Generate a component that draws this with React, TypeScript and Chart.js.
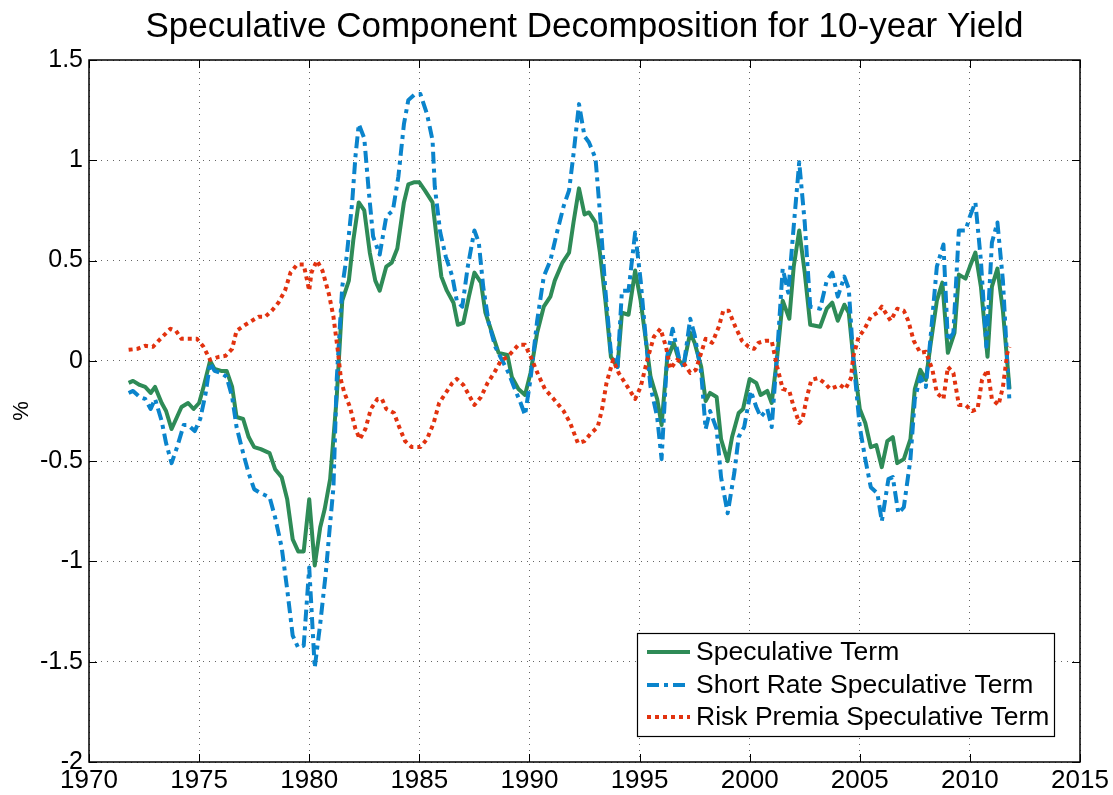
import React, { useEffect, useRef } from "react";
import { Chart, registerables } from "chart.js";

Chart.register(...registerables);

const TITLE = "Speculative Component Decomposition for 10-year Yield";
const Y_LABEL = "%";
const SERIES_LABELS = [
  "Speculative Term",
  "Short Rate Speculative Term",
  "Risk Premia Speculative Term",
];

const X_MIN = 1970;
const X_MAX = 2015;
const X_STEP = 5;
const Y_MIN = -2;
const Y_MAX = 1.5;
const Y_STEP = 0.5;

const specYears = [
  1971.8, 1972.0, 1972.3, 1972.55, 1972.8, 1973.0, 1973.3, 1973.5, 1973.75, 1974.2,
  1974.5, 1974.75, 1975.0, 1975.2, 1975.5, 1975.7, 1976.0, 1976.25, 1976.5, 1976.7,
  1977.0, 1977.25, 1977.5, 1977.8, 1978.2, 1978.45, 1978.75, 1979.0, 1979.25, 1979.5,
  1979.75, 1980.0, 1980.25, 1980.5, 1980.7, 1980.95, 1981.25, 1981.5, 1981.8, 1982.0,
  1982.25, 1982.5, 1982.75, 1983.0, 1983.2, 1983.5, 1983.75, 1984.0, 1984.3, 1984.5,
  1984.75, 1985.0, 1985.25, 1985.6, 1985.8, 1986.0, 1986.25, 1986.55, 1986.75, 1987.0,
  1987.25, 1987.5, 1987.8, 1988.0, 1988.3, 1988.6, 1989.0, 1989.2, 1989.5, 1989.8,
  1990.05, 1990.35, 1990.65, 1990.95, 1991.15, 1991.5, 1991.8, 1992.0, 1992.25, 1992.5,
  1992.7, 1993.0, 1993.2, 1993.45, 1993.7, 1994.0, 1994.2, 1994.5, 1994.8, 1995.05,
  1995.3, 1995.5, 1995.8, 1996.0, 1996.25, 1996.55, 1996.8, 1997.0, 1997.3, 1997.5,
  1997.8, 1998.0, 1998.2, 1998.5, 1998.7, 1999.0, 1999.2, 1999.5, 1999.7, 2000.0,
  2000.3, 2000.5, 2000.8, 2001.0, 2001.25, 2001.5, 2001.8, 2002.0, 2002.25, 2002.5,
  2002.75, 2003.2, 2003.5, 2003.75, 2004.0, 2004.3, 2004.5, 2004.7, 2005.0, 2005.25,
  2005.5, 2005.75, 2006.0, 2006.25, 2006.5, 2006.7, 2007.0, 2007.3, 2007.5, 2007.75,
  2008.0, 2008.2, 2008.5, 2008.75, 2009.0, 2009.3, 2009.5, 2009.8, 2010.0, 2010.25,
  2010.5, 2010.8, 2011.0, 2011.25, 2011.5, 2011.8,
];
const specValues = [
  -0.11, -0.10, -0.12, -0.13, -0.16, -0.13, -0.21, -0.25, -0.34, -0.23,
  -0.21, -0.24, -0.21, -0.13, 0.0, -0.04, -0.05, -0.05, -0.13, -0.28,
  -0.29, -0.38, -0.43, -0.44, -0.46, -0.54, -0.58, -0.69, -0.89, -0.95,
  -0.95, -0.69, -1.02, -0.83, -0.74, -0.59, -0.18, 0.30, 0.40, 0.60,
  0.79, 0.75, 0.54, 0.40, 0.35, 0.47, 0.49, 0.56, 0.79, 0.88,
  0.89, 0.89, 0.85, 0.79, 0.60, 0.42, 0.35, 0.29, 0.18, 0.19,
  0.32, 0.44, 0.39, 0.24, 0.14, 0.04, 0.03, -0.08, -0.14, -0.17,
  -0.06, 0.14, 0.27, 0.32, 0.40, 0.49, 0.54, 0.69, 0.86, 0.73,
  0.74, 0.69, 0.54, 0.30, 0.02, -0.03, 0.24, 0.23, 0.45, 0.30,
  0.09, -0.08, -0.19, -0.32, 0.005, 0.09, 0.0, -0.02, 0.14, 0.09,
  -0.03, -0.20, -0.16, -0.18, -0.39, -0.50, -0.38, -0.26, -0.24, -0.09,
  -0.11, -0.17, -0.15, -0.21, 0.02, 0.30, 0.21, 0.47, 0.65, 0.44,
  0.18, 0.17, 0.26, 0.29, 0.20, 0.28, 0.24, 0.02, -0.24, -0.31,
  -0.43, -0.42, -0.53, -0.40, -0.38, -0.51, -0.49, -0.39, -0.14, -0.045,
  -0.095, 0.07, 0.30, 0.39, 0.04, 0.14, 0.43, 0.41, 0.47, 0.54,
  0.37, 0.02, 0.37, 0.46, 0.25, -0.14,
];

const shortYears = [
  1971.8, 1972.0, 1972.3, 1972.55, 1972.8, 1973.0, 1973.3, 1973.5, 1973.75, 1974.0,
  1974.3, 1974.5, 1974.8, 1975.05, 1975.3, 1975.5, 1975.7, 1976.0, 1976.25, 1976.5,
  1976.7, 1977.0, 1977.25, 1977.5, 1977.8, 1978.2, 1978.45, 1978.75, 1979.0, 1979.25,
  1979.5, 1979.75, 1980.0, 1980.25, 1980.5, 1980.75, 1980.95, 1981.1, 1981.25, 1981.5,
  1981.7, 1981.95, 1982.1, 1982.25, 1982.5, 1982.7, 1982.9, 1983.2, 1983.5, 1983.8,
  1984.05, 1984.3, 1984.5, 1984.8, 1985.05, 1985.35, 1985.6, 1985.7, 1985.95, 1986.2,
  1986.5, 1986.7, 1986.95, 1987.2, 1987.5, 1987.7, 1987.9, 1988.15, 1988.45, 1988.75,
  1989.05, 1989.3, 1989.6, 1989.8, 1990.05, 1990.35, 1990.65, 1990.95, 1991.25, 1991.55,
  1991.8, 1992.0, 1992.25, 1992.5, 1992.7, 1993.0, 1993.2, 1993.45, 1993.7, 1994.0,
  1994.2, 1994.5, 1994.8, 1995.05, 1995.3, 1995.5, 1995.8, 1996.0, 1996.25, 1996.5,
  1996.8, 1997.0, 1997.3, 1997.5, 1997.8, 1998.0, 1998.2, 1998.5, 1998.7, 1999.0,
  1999.3, 1999.5, 1999.75, 2000.05, 2000.3, 2000.5, 2000.8, 2001.0, 2001.25, 2001.5,
  2001.75, 2002.0, 2002.25, 2002.5, 2002.75, 2003.2, 2003.5, 2003.75, 2004.0, 2004.3,
  2004.5, 2004.7, 2005.0, 2005.25, 2005.5, 2005.8, 2006.0, 2006.3, 2006.5, 2006.75,
  2007.0, 2007.3, 2007.5, 2007.75, 2008.0, 2008.2, 2008.5, 2008.8, 2009.0, 2009.25,
  2009.5, 2009.8, 2010.0, 2010.25, 2010.5, 2010.75, 2011.0, 2011.25, 2011.5, 2011.8,
];
const shortValues = [
  -0.16, -0.15, -0.18, -0.19, -0.24, -0.19, -0.30, -0.41, -0.51, -0.43,
  -0.32, -0.32, -0.35, -0.29, -0.16, -0.01, -0.05, -0.06, -0.08, -0.18,
  -0.33, -0.46, -0.56, -0.64, -0.66, -0.68, -0.78, -0.93, -1.14, -1.37,
  -1.43, -1.42, -1.03, -1.53, -1.31, -1.06, -0.81, -0.63, -0.09, 0.37,
  0.52, 0.79, 1.02, 1.18, 1.11, 0.85, 0.62, 0.53, 0.72, 0.75,
  0.92, 1.18, 1.30, 1.33, 1.33, 1.23, 1.10, 0.87, 0.64, 0.52,
  0.42, 0.30, 0.27, 0.47, 0.65, 0.59, 0.37, 0.19, 0.07, 0.005,
  -0.06, -0.13, -0.21, -0.27, -0.09, 0.20, 0.42, 0.50, 0.64, 0.77,
  0.85, 1.03, 1.28, 1.12, 1.09, 1.01, 0.74, 0.35, 0.04, -0.03,
  0.35, 0.35, 0.64, 0.40, 0.09, -0.13, -0.28, -0.49, 0.02, 0.16,
  0.01, -0.03, 0.21, 0.13, -0.06, -0.34, -0.25, -0.34, -0.58, -0.76,
  -0.56, -0.38, -0.33, -0.15, -0.23, -0.28, -0.24, -0.33, 0.04, 0.46,
  0.34, 0.67, 0.99, 0.69, 0.27, 0.26, 0.40, 0.44, 0.32, 0.42,
  0.36, 0.02, -0.33, -0.49, -0.63, -0.66, -0.80, -0.59, -0.58, -0.76,
  -0.73, -0.49, -0.19, -0.08, -0.13, 0.10, 0.47, 0.58, 0.10, 0.14,
  0.65, 0.65, 0.72, 0.79, 0.50, 0.07, 0.59, 0.69, 0.40, -0.21,
];

const riskYears = [
  1971.8, 1972.2, 1972.55, 1972.9, 1973.2, 1973.7, 1973.95, 1974.2, 1974.6, 1974.9,
  1975.2, 1975.5, 1975.9, 1976.2, 1976.5, 1976.7, 1977.1, 1977.4, 1977.7, 1978.0,
  1978.3, 1978.6, 1978.9, 1979.15, 1979.45, 1979.75, 1980.0, 1980.1, 1980.35, 1980.6,
  1980.9, 1981.1, 1981.3, 1981.45, 1981.6, 1981.85, 1982.1, 1982.3, 1982.55, 1982.8,
  1983.1, 1983.3, 1983.5, 1983.85, 1984.05, 1984.35, 1984.65, 1985.05, 1985.35, 1985.65,
  1985.9, 1986.2, 1986.5, 1986.7, 1987.0, 1987.25, 1987.5, 1987.8, 1988.1, 1988.4,
  1988.7, 1989.0, 1989.3, 1989.5, 1989.8, 1990.1, 1990.4, 1990.7, 1991.1, 1991.55,
  1991.85, 1992.2, 1992.5, 1992.8, 1993.1, 1993.3, 1993.5, 1993.8, 1994.05, 1994.4,
  1994.8, 1995.05, 1995.35, 1995.65, 1995.95, 1996.2, 1996.4, 1996.7, 1997.0, 1997.3,
  1997.55, 1997.8, 1998.0, 1998.3, 1998.6, 1998.8, 1999.05, 1999.35, 1999.65, 1999.95,
  2000.2, 2000.4, 2000.7, 2001.0, 2001.25, 2001.5, 2001.8, 2002.0, 2002.25, 2002.4,
  2002.6, 2002.8, 2003.1, 2003.4, 2003.65, 2003.9, 2004.1, 2004.35, 2004.6, 2004.7,
  2004.95, 2005.2, 2005.5, 2005.8, 2006.0, 2006.4, 2006.7, 2007.0, 2007.2, 2007.45,
  2007.75, 2008.0, 2008.3, 2008.5, 2008.8, 2009.0, 2009.25, 2009.5, 2009.8, 2010.1,
  2010.35, 2010.55, 2010.8, 2011.0, 2011.3, 2011.5, 2011.7, 2011.8,
];
const riskValues = [
  0.055, 0.06, 0.075, 0.07, 0.105, 0.16, 0.15, 0.11, 0.11, 0.11,
  0.07, 0.005, 0.02, 0.025, 0.06, 0.15, 0.18, 0.20, 0.22, 0.22,
  0.25, 0.29, 0.35, 0.44, 0.48, 0.48, 0.35, 0.44, 0.50, 0.45,
  0.33, 0.22, 0.05, -0.10, -0.16, -0.23, -0.34, -0.39, -0.34, -0.24,
  -0.19, -0.19, -0.24, -0.26, -0.32, -0.40, -0.43, -0.43, -0.39, -0.31,
  -0.21, -0.16, -0.11, -0.09, -0.12, -0.17, -0.22, -0.18, -0.11, -0.06,
  0.0, 0.02, 0.055, 0.08, 0.08, 0.01, -0.07, -0.14, -0.19, -0.25,
  -0.31, -0.41, -0.40, -0.36, -0.33, -0.24, -0.11, 0.005, -0.06, -0.12,
  -0.19, -0.13, 0.005, 0.12, 0.16, 0.07, -0.04, 0.005, -0.01, -0.06,
  -0.045, 0.04, 0.11, 0.09, 0.17, 0.25, 0.25, 0.17, 0.10, 0.07,
  0.06, 0.09, 0.10, 0.10, -0.03, -0.14, -0.15, -0.23, -0.31, -0.29,
  -0.18, -0.095, -0.086, -0.11, -0.14, -0.13, -0.12, -0.14, -0.086, 0.02,
  0.12, 0.155, 0.22, 0.24, 0.27, 0.20, 0.26, 0.25, 0.20, 0.10,
  0.04, 0.045, -0.045, -0.16, -0.19, -0.03, -0.06, -0.22, -0.22, -0.25,
  -0.24, -0.095, -0.045, -0.19, -0.22, -0.13, 0.04, 0.07,
];

const COLORS = ["#2E8B57", "#0A84CC", "#E2320F"];
const DASHES: number[][] = [[], [12, 5, 4, 5], [4, 4]];
const FONT = '"Liberation Sans", Arial, Helvetica, sans-serif';

const toPoints = (xs: number[], ys: number[]) => xs.map((x, i) => ({ x, y: ys[i] }));

const decorPlugin = {
  id: "matlabDecor",
  afterDraw(chart: any) {
    const ctx: CanvasRenderingContext2D = chart.ctx;
    const { left, right, top, bottom } = chart.chartArea;
    const xs = chart.scales.x;
    const ys = chart.scales.y;
    ctx.save();
    ctx.strokeStyle = "#000";
    ctx.lineWidth = 1;
    ctx.setLineDash([]);
    const tl = 8;
    ctx.beginPath();
    xs.ticks.forEach((t: any) => {
      const px = Math.round(xs.getPixelForValue(t.value)) + 0.5;
      ctx.moveTo(px, bottom);
      ctx.lineTo(px, bottom - tl);
      ctx.moveTo(px, top);
      ctx.lineTo(px, top + tl);
    });
    ys.ticks.forEach((t: any) => {
      const py = Math.round(ys.getPixelForValue(t.value)) + 0.5;
      ctx.moveTo(left, py);
      ctx.lineTo(left + tl, py);
      ctx.moveTo(right, py);
      ctx.lineTo(right - tl, py);
    });
    ctx.stroke();
    ctx.lineWidth = 1.5;
    ctx.strokeRect(left, top, right - left, bottom - top);

    ctx.fillStyle = "#000";
    ctx.font = `35px ${FONT}`;
    ctx.textAlign = "center";
    ctx.textBaseline = "alphabetic";
    ctx.fillText(TITLE, (left + right) / 2, 37);

    ctx.save();
    ctx.translate(28, (top + bottom) / 2);
    ctx.rotate(-Math.PI / 2);
    ctx.font = `22px ${FONT}`;
    ctx.textAlign = "center";
    ctx.textBaseline = "alphabetic";
    ctx.fillText(Y_LABEL, 0, 0);
    ctx.restore();

    const lx = 637;
    const ly = 633;
    const lw = 417;
    const lh = 103;
    ctx.fillStyle = "#fff";
    ctx.fillRect(lx, ly, lw, lh);
    ctx.strokeStyle = "#000";
    ctx.lineWidth = 1.2;
    ctx.strokeRect(lx + 0.5, ly + 0.5, lw, lh);
    const rowsY = [652, 685, 717];
    chart.data.datasets.forEach((ds: any, i: number) => {
      const y = rowsY[i];
      ctx.save();
      ctx.strokeStyle = ds.borderColor;
      ctx.lineWidth = ds.borderWidth;
      ctx.lineCap = "butt";
      ctx.setLineDash(ds.borderDash || []);
      ctx.beginPath();
      ctx.moveTo(647, y);
      ctx.lineTo(690, y);
      ctx.stroke();
      ctx.restore();
      ctx.fillStyle = "#000";
      ctx.font = `26.5px ${FONT}`;
      ctx.textAlign = "left";
      ctx.textBaseline = "middle";
      ctx.fillText(ds.label, 696, y + 1);
    });
    ctx.restore();
  },
};

export default function App() {
  const ref = useRef<HTMLCanvasElement | null>(null);

  useEffect(() => {
    const canvas = ref.current;
    if (!canvas) return;
    const seriesX = [specYears, shortYears, riskYears];
    const seriesY = [specValues, shortValues, riskValues];
    const chart = new Chart(canvas, {
      type: "line",
      data: {
        datasets: SERIES_LABELS.map((label, i) => ({
          label,
          data: toPoints(seriesX[i], seriesY[i]),
          borderColor: COLORS[i],
          backgroundColor: COLORS[i],
          borderWidth: 4,
          borderDash: DASHES[i],
          borderCapStyle: "butt",
          borderJoinStyle: "round",
          pointRadius: 0,
          tension: 0,
          fill: false,
          order: 3 - i,
        })),
      },
      options: {
        animation: false,
        responsive: false,
        devicePixelRatio: 1,
        events: [],
        layout: { padding: { top: 60, right: 33, left: 0, bottom: 0 } },
        plugins: {
          legend: { display: false },
          title: { display: false },
          tooltip: { enabled: false },
        },
        scales: {
          x: {
            type: "linear",
            min: X_MIN,
            max: X_MAX,
            ticks: {
              stepSize: X_STEP,
              autoSkip: false,
              maxRotation: 0,
              padding: 3,
              color: "#000",
              font: { family: FONT, size: 26 },
              callback: (v: any) => String(v),
            },
            grid: { color: "rgba(0,0,0,0.6)", lineWidth: 1, drawTicks: false },
            border: { display: false, dash: [1, 5] },
            afterFit: (s: any) => {
              s.height = 33;
              s.paddingLeft = 0;
              s.paddingRight = 0;
            },
          },
          y: {
            type: "linear",
            min: Y_MIN,
            max: Y_MAX,
            ticks: {
              stepSize: Y_STEP,
              autoSkip: false,
              padding: 6,
              color: "#000",
              font: { family: FONT, size: 25 },
              callback: (v: any) => String(v),
            },
            grid: { color: "rgba(0,0,0,0.6)", lineWidth: 1, drawTicks: false },
            border: { display: false, dash: [1, 5] },
            afterFit: (s: any) => {
              s.width = 89;
              s.paddingTop = 0;
              s.paddingBottom = 0;
            },
          },
        },
      } as any,
      plugins: [decorPlugin],
    });
    return () => chart.destroy();
  }, []);

  return (
    <div style={{ position: "absolute", left: 0, top: 0, width: 1113, height: 795, background: "#fff" }}>
      <canvas ref={ref} width={1113} height={795} style={{ display: "block", width: 1113, height: 795 }} />
    </div>
  );
}
